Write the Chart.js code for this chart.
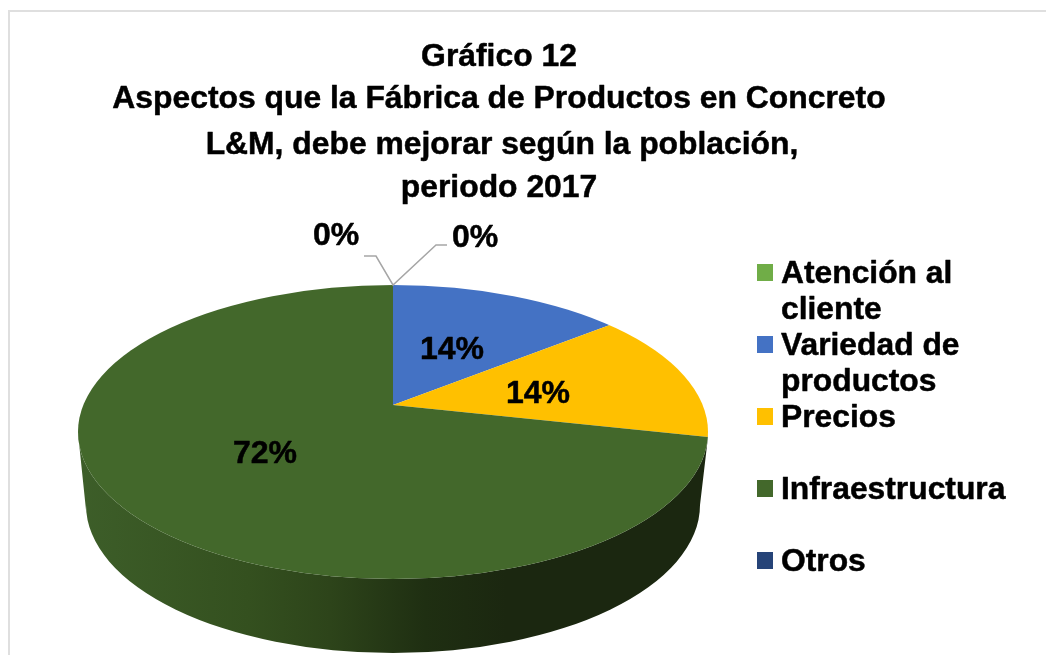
<!DOCTYPE html>
<html><head><meta charset="utf-8">
<style>html,body{margin:0;padding:0;background:#fff}canvas{display:block}</style>
<script src="https://cdn.jsdelivr.net/npm/chart.js@4/dist/chart.umd.min.js"></script>
</head><body>
<canvas id="c" width="1046" height="655"></canvas>
<script>
const categories = ['Atención al cliente','Variedad de productos','Precios','Infraestructura','Otros'];
const values = [0, 14.4, 14.0, 71.6, 0];
const colors = ['#70ad47','#4472c4','#ffc000','#43682b','#264478'];
const titleLines = ['Gráfico 12','Aspectos que la Fábrica de Productos en Concreto','L&M, debe mejorar según la población,','periodo 2017'];
const legendLines = [['Atención al','cliente'],['Variedad de','productos'],['Precios'],['Infraestructura'],['Otros']];

const FONT = '"Liberation Sans", Arial, sans-serif';
const pct = v => Math.round(v) + '%';

const pie3d = {
  id: 'pie3d',
  beforeDatasetsDraw(chart) {
    const ctx = chart.ctx, arc = chart.getDatasetMeta(0).data[0];
    // frame
    ctx.save();
    ctx.strokeStyle = '#dfdfdf'; ctx.lineWidth = 2;
    ctx.beginPath(); ctx.moveTo(9, 655); ctx.lineTo(9, 11); ctx.lineTo(1046, 11); ctx.stroke();
    ctx.restore();
    // side wall
    ctx.save();
    const g = ctx.createLinearGradient(78, 0, 708, 0);
    g.addColorStop(0, '#3d5e29'); g.addColorStop(0.27, '#34501f'); g.addColorStop(0.4, '#2d441a');
    g.addColorStop(0.55, '#1f2f12'); g.addColorStop(0.68, '#1b2710'); g.addColorStop(1, '#1b2710');
    ctx.fillStyle = g;
    ctx.beginPath();
    ctx.moveTo(78, 433);
    ctx.lineTo(86, 510);
    ctx.ellipse(393, 505, 307, 148, 0, Math.PI, 0, true);
    ctx.lineTo(708, 437);
    ctx.ellipse(393, 432, 315, 147, 0, 0, Math.PI, false);
    ctx.closePath();
    ctx.fill();
    ctx.restore();
    // top face: the library's arcs, tilted about the apex and trimmed to the rim
    ctx.save();
    ctx.beginPath();
    ctx.ellipse(393, 432, 315, 147, 0, 0, Math.PI * 2);
    ctx.clip();
    const k = 800 / arc.outerRadius;
    ctx.translate(393, 405);
    ctx.scale(k, k * 0.47);
    ctx.translate(-arc.x, -arc.y);
  },
  afterDatasetsDraw(chart) {
    const ctx = chart.ctx;
    ctx.restore();
    // leader lines
    ctx.save();
    ctx.strokeStyle = '#a6a6a6'; ctx.lineWidth = 1.5;
    ctx.beginPath();
    ctx.moveTo(447, 245); ctx.lineTo(436, 245); ctx.lineTo(393, 285); ctx.lineTo(376, 256); ctx.lineTo(364, 256);
    ctx.stroke();
    const put = (t, x, y) => { ctx.strokeText(t, x, y); ctx.fillText(t, x, y); };
    ctx.fillStyle = '#000'; ctx.strokeStyle = '#000'; ctx.lineWidth = 0.5; ctx.lineJoin = 'round';
    // data labels
    ctx.textAlign = 'center'; ctx.textBaseline = 'alphabetic';
    ctx.font = 'bold 32px ' + FONT;
    put(pct(values[0]), 336, 245);
    put(pct(values[1]), 452, 359);
    put(pct(values[2]), 538, 403);
    put(pct(values[3]), 265, 463);
    put(pct(values[4]), 475, 247);
    // title
    ctx.font = 'bold 31.85px ' + FONT;
    const ty = [66, 108, 154, 197], tx = [499, 499, 502, 499];
    titleLines.forEach((t, i) => put(t, tx[i], ty[i]));
    // legend
    ctx.textAlign = 'left';
    ctx.font = 'bold 31.8px ' + FONT;
    const boxY = [264, 336, 408, 480, 552];
    const textY = [[283, 319], [355, 391], [427], [499], [571]];
    legendLines.forEach((lines, i) => {
      ctx.fillStyle = colors[i];
      ctx.fillRect(757, boxY[i], 16, 17);
      ctx.fillStyle = '#000';
      lines.forEach((l, j) => put(l, 781, textY[i][j]));
    });
    ctx.restore();
  }
};

new Chart(document.getElementById('c'), {
  type: 'pie',
  data: { labels: categories, datasets: [{ data: values, backgroundColor: colors, borderWidth: 0 }] },
  options: {
    responsive: false, animation: false,
    plugins: { legend: { display: false }, tooltip: { enabled: false }, title: { display: false } }
  },
  plugins: [pie3d]
});
</script>
</body></html>
